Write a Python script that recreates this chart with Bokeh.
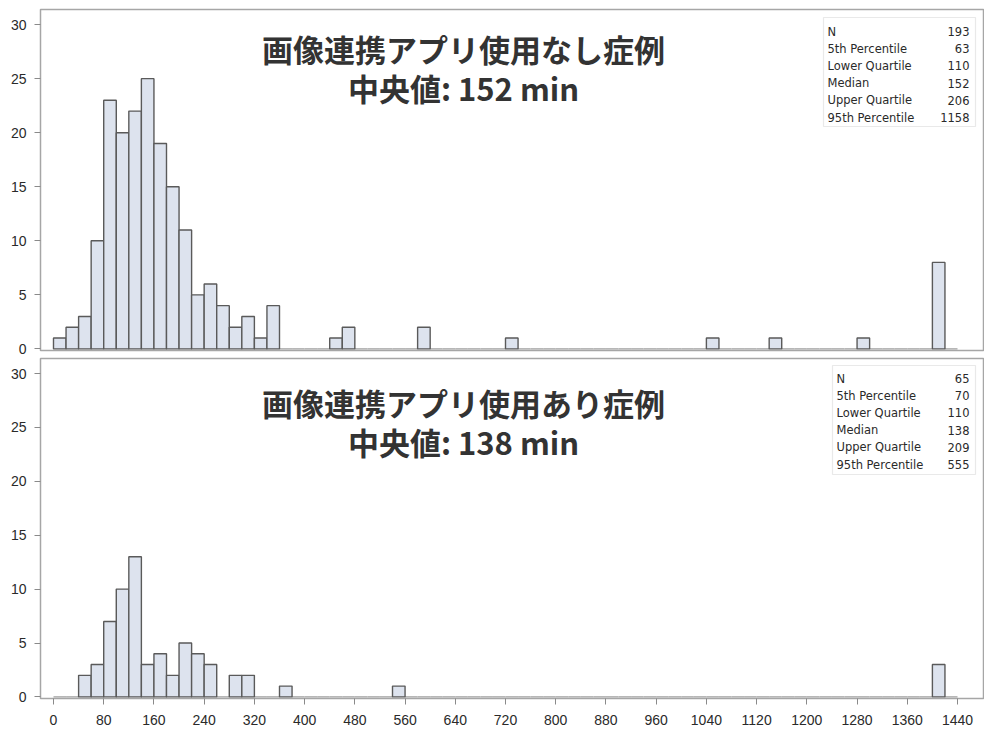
from bokeh.plotting import figure
from bokeh.models import Range1d, FixedTicker, Label, BoxAnnotation
from bokeh.layouts import column
from bokeh.embed import file_html
from bokeh.resources import INLINE

# ---------------- data ----------------
bin_width = 20
x_last = 1440
x_ticks = list(range(0, 1441, 80))
y_ticks = [0, 5, 10, 15, 20, 25, 30]

no_app_title = "画像連携アプリ使用なし症例"
no_app_median_text = "中央値: 152 min"
no_app_bin_starts = [0, 20, 40, 60, 80, 100, 120, 140, 160, 180, 200, 220, 240, 260,
                     280, 300, 320, 340, 440, 460, 580, 720, 1040, 1140, 1280, 1400]
no_app_counts = [1, 2, 3, 10, 23, 20, 22, 25, 19, 15, 11, 5, 6, 4,
                 2, 3, 1, 4, 1, 2, 2, 1, 1, 1, 1, 8]

app_title = "画像連携アプリ使用あり症例"
app_median_text = "中央値: 138 min"
app_bin_starts = [40, 60, 80, 100, 120, 140, 160, 180, 200, 220, 240, 280, 300, 360, 540, 1400]
app_counts = [2, 3, 7, 10, 13, 3, 4, 2, 5, 4, 3, 2, 2, 1, 1, 3]

stat_names = ["N", "5th Percentile", "Lower Quartile", "Median", "Upper Quartile", "95th Percentile"]
no_app_stats = [193, 63, 110, 152, 206, 1158]
app_stats = [65, 70, 110, 138, 209, 555]

# ---------------- style ----------------
BAR_FILL = "#dde3ee"
BAR_LINE = "#5a5a5a"
FRAME = "#a6a6a6"
TXT = "#2a2a2a"

x_range = Range1d(-20.7, 1481.4)


def build(bin_starts, counts, title, median_text, stats, height, top_b, bottom_b,
          show_x, title_y, box_geom, row_y0, label_x):
    p = figure(width=984, height=height, output_backend="svg", toolbar_location=None,
               x_range=x_range, y_range=Range1d(-0.15, 31.4),
               min_border_left=40, min_border_right=1,
               min_border_top=top_b, min_border_bottom=bottom_b)
    p.outline_line_color = FRAME
    p.outline_line_width = 1.5
    p.grid.visible = False
    p.background_fill_color = "white"
    p.border_fill_color = "white"

    # full set of bins (zeros included) from the data
    n_bins = x_last // bin_width
    lookup = dict(zip(bin_starts, counts))
    lefts = [i * bin_width for i in range(n_bins)]
    tops = [lookup.get(l, 0) for l in lefts]
    zero_l = [l for l, t in zip(lefts, tops) if t == 0]
    p.quad(left=zero_l, right=[l + bin_width for l in zero_l], bottom=0, top=0,
           fill_color=None, line_color="#a0a0a0", line_width=1.4)
    p.quad(left=bin_starts, right=[b + bin_width for b in bin_starts], bottom=0, top=counts,
           fill_color=BAR_FILL, line_color=BAR_LINE, line_width=1.4)

    # y axis
    ya = p.yaxis[0]
    ya.ticker = FixedTicker(ticks=y_ticks)
    ya.major_tick_out = 6
    ya.major_tick_in = 0
    ya.minor_tick_line_color = None
    ya.axis_line_color = FRAME
    ya.major_tick_line_color = "#8a8a8a"
    ya.major_label_text_font = "Liberation Sans"
    ya.major_label_text_font_size = "14px"
    ya.major_label_text_color = TXT
    ya.major_label_standoff = 8

    xa = p.xaxis[0]
    if show_x:
        xa.ticker = FixedTicker(ticks=x_ticks)
        xa.major_tick_out = 6
        xa.major_tick_in = 0
        xa.minor_tick_line_color = None
        xa.axis_line_color = FRAME
        xa.major_tick_line_color = "#8a8a8a"
        xa.major_label_text_font = "Liberation Sans"
        xa.major_label_text_font_size = "14px"
        xa.major_label_text_color = TXT
        xa.major_label_standoff = 10
    else:
        xa.visible = False

    # titles
    for txt, yy in zip([title, median_text], title_y):
        p.add_layout(Label(x=423, y=yy, x_units="screen", y_units="screen", text=txt,
                           text_align="center", text_baseline="middle",
                           text_font="Noto Sans CJK JP", text_font_style="bold",
                           text_font_size="31px", text_color="#333333"))

    # statistics box
    bl, br, bt, bb = box_geom
    p.add_layout(BoxAnnotation(left=bl, right=br, top=bt, bottom=bb,
                               left_units="screen", right_units="screen",
                               top_units="screen", bottom_units="screen",
                               fill_color="white", fill_alpha=1.0,
                               line_color="#b5b5b5", line_width=1.2))
    for i, (name, val) in enumerate(zip(stat_names, stats)):
        yy = row_y0 - i * 17.2
        p.add_layout(Label(x=label_x, y=yy, x_units="screen", y_units="screen", text=name,
                           text_align="left", text_baseline="middle",
                           text_font="DejaVu Sans", text_font_size="11.5px",
                           text_color=TXT))
        p.add_layout(Label(x=br - 6, y=yy, x_units="screen", y_units="screen", text=str(val),
                           text_align="right", text_baseline="middle",
                           text_font="DejaVu Sans", text_font_size="11.5px",
                           text_color=TXT))
    return p


top = build(no_app_bin_starts, no_app_counts, no_app_title, no_app_median_text, no_app_stats,
            height=357, top_b=9, bottom_b=7, show_x=False, title_y=[302, 263],
            box_geom=(783, 935, 333, 224), row_y0=319, label_x=787)
bottom = build(app_bin_starts, app_counts, app_title, app_median_text, app_stats,
               height=377, top_b=1, bottom_b=36, show_x=True, title_y=[296, 257],
               box_geom=(792, 935, 333, 224), row_y0=320, label_x=796)

layout = column(top, bottom, spacing=0)
open("out.html", "w").write(file_html(layout, INLINE))
